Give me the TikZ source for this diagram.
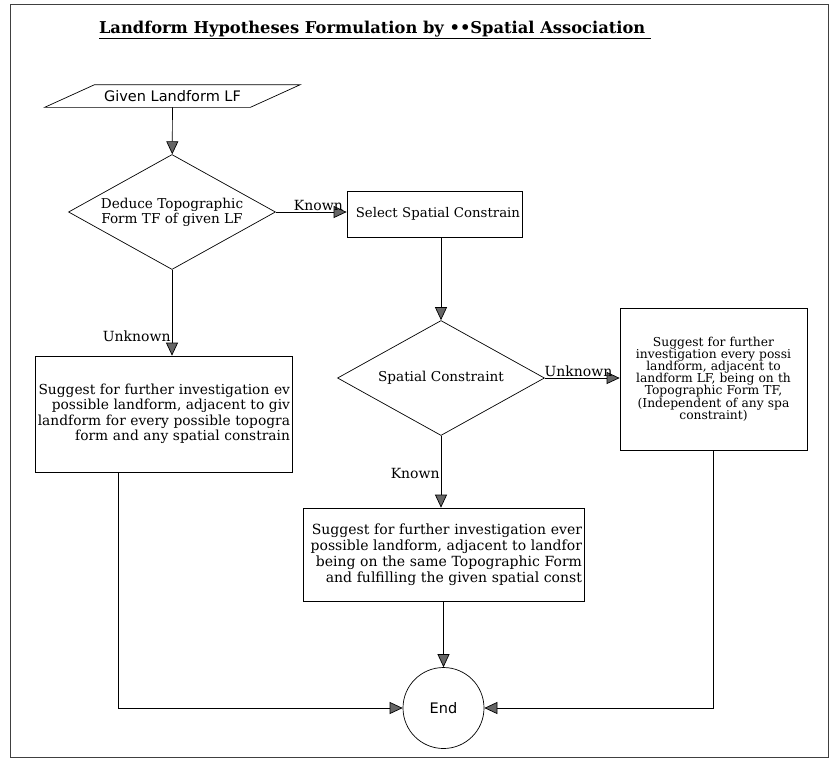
\documentclass[tikz,border=0pt]{standalone}
\usepackage{fontspec}
\setmainfont{DejaVu Serif}
\newfontfamily\labelfont{DejaVu Sans}
\usetikzlibrary{shapes.geometric, arrows.meta, positioning}

\begin{document}
\begin{tikzpicture}[x=1pt, y=-1pt, ->, >={Triangle[length=13pt, width=12pt, fill=black!60]}, line width=0.7pt,
	decision/.style={draw, diamond, aspect=1.8, inner sep=0pt, minimum width=207pt, minimum height=115pt, align=center, font=\fontsize{13.6}{15}\selectfont},
	task/.style={draw, rectangle, inner xsep=2pt, inner ysep=0pt, align=right, font=\fontsize{13.8}{15.5}\selectfont},
	lbl/.style={font=\fontsize{14}{16}\selectfont, inner sep=1pt}]
	\useasboundingbox (0,0) rectangle (837,761);
	\draw[-, line width=0.6pt, black!75] (10,4) rectangle (828,757);

	\node (0) at (375,30) {\fontsize{16.3}{19}\selectfont\bfseries\underline{Landform Hypotheses Formulation by ••Spatial Association\ }};
	\node[minimum width=255pt, minimum height=22pt, inner sep=0pt, font=\labelfont\fontsize{14.5}{16}\selectfont] (1) at (172.5,96) {Given Landform LF};
	\draw[-] (1.south west) -- ([xshift=50pt]1.north west) -- (1.north east) -- ([xshift=-50pt]1.south east) -- cycle;
	\node[decision] (2) at (172,212) {Deduce Topographic\\Form TF of given LF};
	\node[task, text width=171pt, minimum height=46pt, font=\fontsize{13.3}{15}\selectfont] (3) at (434.5,214) {Select Spatial Constrain};
	\node[task, text width=253pt, minimum height=116pt] (4) at (163.5,414) {Suggest for further investigation ev\\possible landform, adjacent to giv\\landform for every possible topogra\\form and any spatial constrain};
	\node[decision] (5) at (441,378) {Spatial Constraint};
	\node[task, text width=183pt, minimum height=142pt, align=center, font=\fontsize{12.3}{12.2}\selectfont] (6) at (713.5,379) {Suggest for further\\investigation every possi\\landform, adjacent to\\landform LF, being on th\\Topographic Form TF,\\(Independent of any spa\\constraint)};
	\node[task, text width=277pt, minimum height=93pt, font=\fontsize{14}{16}\selectfont] (7) at (443.5,554.5) {Suggest for further investigation ever\\possible landform, adjacent to landfor\\being on the same Topographic Form\\and fulfilling the given spatial const};
	\node[draw, circle, minimum size=81pt, inner sep=0pt, font=\labelfont\fontsize{14.5}{16}\selectfont] (8) at (443.5,708) {End};

	\draw	(1) edge (2)
			(2) edge node[lbl, above, pos=0.6] {Known} (2 -| 3.west)
			(2) edge node[lbl, left, pos=0.77] {Unknown} (2 |- 4.north)
			(5) edge node[lbl, above, pos=0.45] {Unknown} (5 -| 6.west)
			(5) edge node[lbl, left, pos=0.52] {Known} (5 |- 7.north)
			(7) edge (8)
	;

	\draw (3.south -| 5.north) -- (5.north);
	\draw ([xshift=-45.5pt]4.south) |- (8.west);
	\draw (6.south) |- (8.east);
\end{tikzpicture}
\end{document}
